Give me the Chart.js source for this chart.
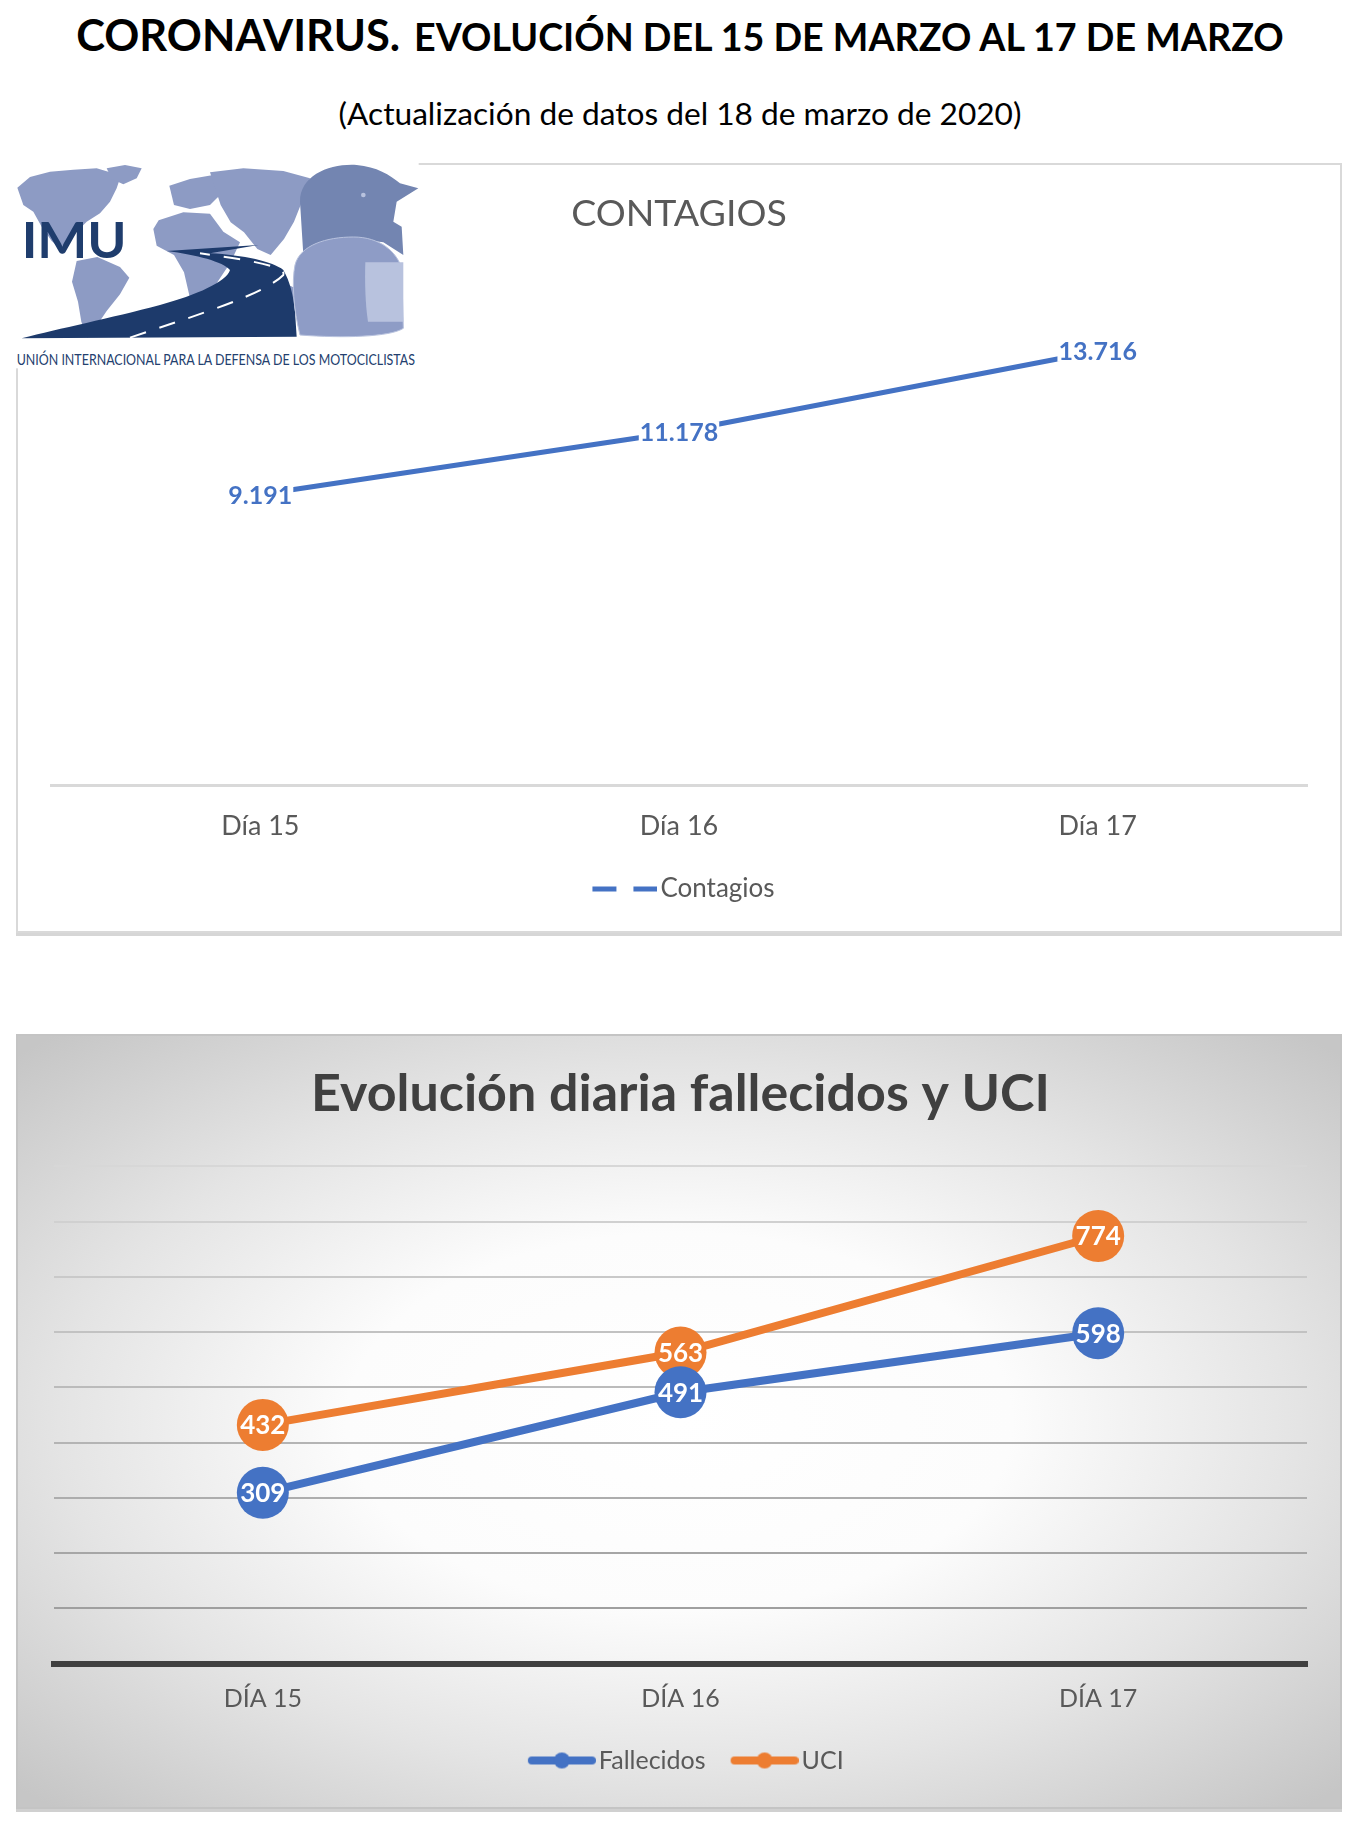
<!DOCTYPE html>
<html lang="es">
<head>
<meta charset="utf-8">
<title>Coronavirus evolución</title>
<script src="https://cdn.jsdelivr.net/npm/chart.js@4.4.1/dist/chart.umd.min.js"></script>
<style>
  body { margin: 0; width: 1360px; height: 1823px; background: #fff; position: relative; overflow: hidden; font-family: Lato, "Open Sans", sans-serif; }
  .linea { position: absolute; left: 0; width: 1360px; text-align: center; white-space: nowrap; line-height: 1; transform: translateY(-50%); color: #000; }
  .linea span { display: inline-block; }
  #titulo { top: 35px; font-weight: bold; }
  #t2 { margin-left: 14px; }
  #subtitulo { top: 114px; }
  .tarjeta { position: absolute; left: 16px; width: 1322px; box-sizing: content-box; }
  #tarjeta1 { top: 163px; height: 766px; border: 2px solid #d9d9d9; box-shadow: 0 3px 0 #d6d6d6; background: #fff; }
  #tarjeta2 { top: 1034px; height: 771px; border: 2px solid #c4c4c4; box-shadow: 0 3px 0 #d0d0d0;
    background: radial-gradient(ellipse 70% 68% at 50% 50%, #ffffff 0%, #fcfcfc 36%, #e4e4e4 67%, #c6c6c6 100%); }
  canvas { position: absolute; left: 16px; }
  #grafico1 { top: 163px; }
  #grafico2 { top: 1034px; }
  #logo { position: absolute; left: 10px; top: 155px; }
</style>
</head>
<body>

<div id="titulo" class="linea"><span id="t1" style="font-size:42px">CORONAVIRUS.</span><span id="t2" style="font-size:34px">EVOLUCIÓN DEL 15 DE MARZO AL 17 DE MARZO</span></div>
<div id="subtitulo" class="linea"><span id="t3" style="font-size:30px">(Actualización de datos del 18 de marzo de 2020)</span></div>

<div id="tarjeta1" class="tarjeta"></div>
<div id="tarjeta2" class="tarjeta"></div>

<canvas id="grafico1" width="1326" height="770"></canvas>
<canvas id="grafico2" width="1326" height="773"></canvas>

<svg id="logo" width="440" height="230" viewBox="0 0 1320 690" xmlns="http://www.w3.org/2000/svg">
  <rect x="12" y="18" width="1214" height="622" fill="#fff"/>
  <g fill="#8d9bc4">
    <!-- America del norte -->
    <path d="M22 98 L60 66 L120 50 L190 44 L260 40 L300 52 L330 70 L320 100 L300 140 L270 175 L230 200 L200 230 L170 262 L150 280 L125 258 L95 215 L70 170 L40 150 Z"/>
    <path d="M290 40 L345 30 L395 40 L380 70 L340 88 L305 72 Z"/>
    <!-- America del sur -->
    <path d="M200 318 L262 306 L330 336 L358 368 L330 418 L290 468 L258 515 L232 548 L214 500 L204 440 L186 380 Z"/>
    <!-- Europa y Africa -->
    <path d="M478 92 L540 72 L610 60 L640 110 L600 150 L540 162 L492 150 Z"/>
    <path d="M446 196 L520 172 L600 176 L640 230 L690 262 L662 322 L622 382 L592 440 L562 472 L540 430 L522 352 L492 300 L440 272 L430 222 Z"/>
    <!-- Asia -->
    <path d="M600 52 L700 40 L820 48 L900 70 L880 130 L852 200 L822 252 L782 300 L742 282 L702 232 L662 202 L632 150 Z"/>
    <!-- Oceania -->
    <path d="M760 402 L820 382 L860 402 L850 452 L790 462 L760 440 Z"/>
  </g>
  <!-- carretera -->
  <path d="M35 550 L860 545 L855 470 C850 420 840 380 820 345 C790 320 700 300 600 295 L745 270 L470 288 C560 300 640 320 660 345 C650 380 560 420 450 450 C300 490 150 520 35 550 Z" fill="#1d3a6b"/>
  <path d="M360 548 C560 480 760 420 820 360 C830 340 760 320 570 295" fill="none" stroke="#fff" stroke-width="6" stroke-dasharray="50 42"/>
  <!-- cascos -->
  <path d="M870 140 C870 60 960 25 1040 30 C1100 35 1140 60 1170 85 L1225 100 L1160 140 L1150 200 L1175 215 L1180 300 L1120 262 C1000 242 900 262 880 300 Z" fill="#7385b1"/>
  <circle cx="1060" cy="120" r="7" fill="#b8c2de"/>
  <path d="M855 330 C870 270 950 246 1030 246 C1110 246 1160 290 1175 340 L1180 520 C1140 546 1000 550 870 540 C850 460 845 380 855 330 Z" fill="#8e9cc6" stroke="#b8c2de" stroke-width="3"/>
  <path d="M1066 322 L1180 322 L1180 500 L1074 500 C1066 450 1064 380 1066 322 Z" fill="#b8c2de"/>
  <text x="35" y="310" font-family="Lato" font-weight="bold" font-size="150" fill="#1f3d6d" textLength="315" lengthAdjust="spacingAndGlyphs">IMU</text>
  <text x="20" y="630" font-family="Lato" font-size="47" fill="#23406e" textLength="1195" lengthAdjust="spacingAndGlyphs">UNIÓN INTERNACIONAL PARA LA DEFENSA DE LOS MOTOCICLISTAS</text>
</svg>

<script>
// datos
var dias = ["Día 15", "Día 16", "Día 17"];
var contagios = [9191, 11178, 13716];

var diasMayus = ["DÍA 15", "DÍA 16", "DÍA 17"];
var fallecidos = [309, 491, 598];
var uci = [432, 563, 774];

var azul = "#4472C4";
var naranja = "#ED7D31";

// ajusta el tamaño de letra de un span al ancho medido en la imagen
function ajustar(id, ancho) {
    var el = document.getElementById(id);
    var w = el.getBoundingClientRect().width;
    var fs = parseFloat(getComputedStyle(el).fontSize);
    el.style.fontSize = (fs * ancho / w) + "px";
}

// número con punto de miles (9.191)
function formato(v) {
    return String(v).replace(/\B(?=(\d{3})+(?!\d))/g, ".");
}

// etiquetas de datos centradas sobre cada punto
var etiquetas = {
    id: "etiquetas",
    afterDatasetsDraw: function (chart, args, opts) {
        var ctx = chart.ctx;
        chart.data.datasets.forEach(function (ds, i) {
            var meta = chart.getDatasetMeta(i);
            meta.data.forEach(function (pt, j) {
                var txt = formato(ds.data[j]);
                ctx.save();
                ctx.font = "bold " + opts.size + "px Lato";
                var w = ctx.measureText(txt).width;
                if (opts.fondo) {
                    ctx.fillStyle = opts.fondo;
                    ctx.fillRect(pt.x - w / 2 - 1, pt.y - opts.size * 0.42, w + 2, opts.size * 0.84);
                }
                ctx.fillStyle = opts.color;
                ctx.textAlign = "center";
                ctx.textBaseline = "middle";
                ctx.fillText(txt, pt.x, pt.y + 1);
                ctx.restore();
            });
        });
    }
};

// marcador de leyenda dibujado en un canvas (se desplaza con margen transparente)
function marcador(tipo, color, visible, margen) {
    var c = document.createElement("canvas");
    c.width = visible + 2 * margen;
    c.height = 20;
    var g = c.getContext("2d");
    var x0 = 2 * margen;
    g.strokeStyle = color;
    g.fillStyle = color;
    if (tipo === "guiones") {
        g.lineWidth = 5;
        g.lineCap = "butt";
        g.beginPath();
        g.moveTo(x0, 10); g.lineTo(x0 + 24, 10);
        g.moveTo(x0 + visible - 24, 10); g.lineTo(x0 + visible, 10);
        g.stroke();
    } else {
        g.lineWidth = 8;
        g.lineCap = "round";
        g.beginPath();
        g.moveTo(x0 + 4, 10); g.lineTo(x0 + visible - 4, 10);
        g.stroke();
        g.beginPath();
        g.arc(x0 + visible / 2, 10, 8, 0, Math.PI * 2);
        g.fill();
    }
    return c;
}

function leyenda(marcas) {
    return function (chart) {
        return chart.data.datasets.map(function (ds, i) {
            return {
                text: ds.label,
                pointStyle: marcas[i],
                fillStyle: "transparent",
                strokeStyle: "transparent",
                lineWidth: 0,
                fontColor: "#595959",
                hidden: false,
                datasetIndex: i
            };
        });
    };
}

Chart.defaults.font.family = "Lato";

function dibujar() {
    ajustar("t1", 324);
    ajustar("t2", 870);
    ajustar("t3", 683);

    new Chart(document.getElementById("grafico1"), {
        type: "line",
        data: {
            labels: dias,
            datasets: [{
                label: "Contagios",
                data: contagios,
                borderColor: azul,
                backgroundColor: azul,
                borderWidth: 5,
                pointRadius: 0,
                tension: 0
            }]
        },
        options: {
            responsive: false,
            animation: false,
            layout: { padding: { left: 35, right: 35, top: 0, bottom: 21 } },
            scales: {
                x: {
                    offset: true,
                    grid: { display: false, drawTicks: false },
                    border: { color: "#d9d9d9", width: 3 },
                    ticks: { color: "#595959", font: { size: 27 }, padding: 24 }
                },
                y: { display: false, min: 0, max: 16000 }
            },
            plugins: {
                title: {
                    display: true,
                    text: "CONTAGIOS",
                    color: "#595959",
                    font: { size: 37.5, weight: "normal" },
                    padding: { top: 28, bottom: 43 }
                },
                legend: {
                    position: "bottom",
                    labels: {
                        usePointStyle: true,
                        pointStyleWidth: 64,
                        color: "#595959",
                        font: { size: 26 },
                        generateLabels: leyenda([marcador("guiones", azul, 65, 9.5)])
                    }
                },
                tooltip: { enabled: false },
                etiquetas: { size: 25, color: azul, fondo: "#ffffff" }
            }
        },
        plugins: [etiquetas]
    });

    new Chart(document.getElementById("grafico2"), {
        type: "line",
        data: {
            labels: diasMayus,
            datasets: [{
                label: "Fallecidos",
                data: fallecidos,
                borderColor: azul,
                backgroundColor: azul,
                borderWidth: 8,
                pointRadius: 26,
                pointBackgroundColor: azul,
                pointBorderColor: azul,
                pointBorderWidth: 0,
                tension: 0
            }, {
                label: "UCI",
                data: uci,
                borderColor: naranja,
                backgroundColor: naranja,
                borderWidth: 8,
                pointRadius: 26,
                pointBackgroundColor: naranja,
                pointBorderColor: naranja,
                pointBorderWidth: 0,
                tension: 0
            }]
        },
        options: {
            responsive: false,
            animation: false,
            layout: { padding: { left: 38, right: 35, top: 0, bottom: 24 } },
            scales: {
                x: {
                    offset: true,
                    grid: { display: false, drawTicks: false },
                    border: { color: "#404040", width: 6 },
                    ticks: { color: "#595959", font: { size: 25 }, padding: 20 }
                },
                y: {
                    min: 0,
                    max: 900,
                    ticks: { display: false, stepSize: 100 },
                    border: { display: false },
                    grid: {
                        drawTicks: false,
                        lineWidth: 2,
                        color: function (c) {
                            var n = Math.round(215 - (900 - c.tick.value) / 100 * 7);
                            return "rgb(" + n + "," + n + "," + n + ")";
                        }
                    }
                }
            },
            plugins: {
                title: {
                    display: true,
                    text: "Evolución diaria fallecidos y UCI",
                    color: "#404040",
                    font: { size: 52, weight: "bold" },
                    padding: { top: 29, bottom: 41 }
                },
                legend: {
                    position: "bottom",
                    labels: {
                        usePointStyle: true,
                        pointStyleWidth: 69,
                        padding: 14.5,
                        color: "#595959",
                        font: { size: 25 },
                        generateLabels: leyenda([marcador("linea", azul, 68, 10), marcador("linea", naranja, 68, 10)])
                    }
                },
                tooltip: { enabled: false },
                etiquetas: { size: 26, color: "#ffffff" }
            }
        },
        plugins: [etiquetas]
    });
}

if (document.fonts && document.fonts.ready) {
    document.fonts.ready.then(dibujar);
} else {
    dibujar();
}
</script>
</body>
</html>
